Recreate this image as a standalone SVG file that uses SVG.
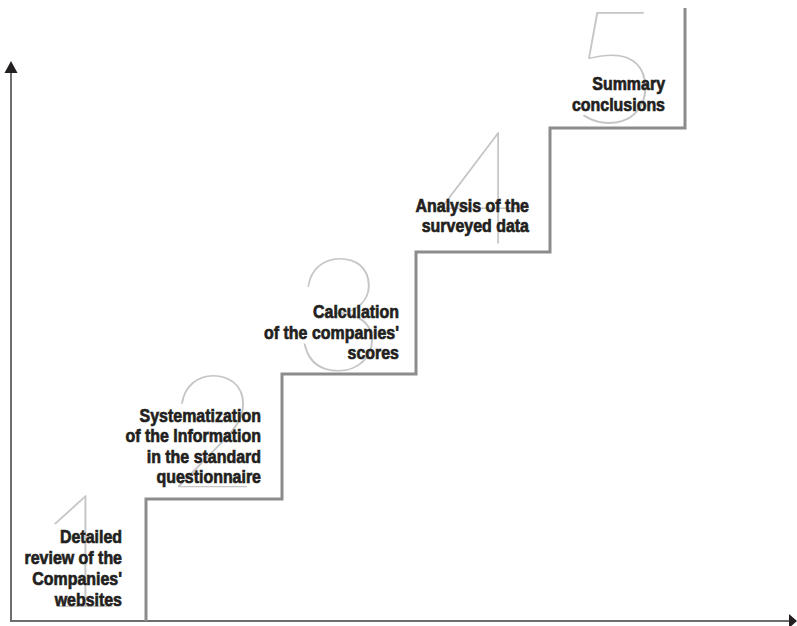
<svg xmlns="http://www.w3.org/2000/svg" width="797" height="626" viewBox="0 0 797 626">
<style>
.num{font-family:Lato,Roboto,"DejaVu Sans",sans-serif;font-weight:100;font-size:158px;fill:#c6c6c6;text-anchor:middle}
.lbl{font-family:"Liberation Sans",Arial,sans-serif;font-weight:bold;font-size:19px;fill:#231f20;stroke:#231f20;stroke-width:0.7;text-anchor:end}
.axis{stroke:#6e6e6e;stroke-width:2;fill:none}
.stair{stroke:#8c8c8c;stroke-width:3;fill:none}
</style>
<rect width="797" height="626" fill="#fff"/>
<g id="step1">
<text class="num" x="81" y="607">1</text>
<text class="lbl" transform="translate(122,0) scale(0.84,1)"><tspan x="0" y="543">Detailed</tspan><tspan x="0" y="564">review of the</tspan><tspan x="0" y="585">Companies'</tspan><tspan x="0" y="606">websites</tspan></text>
</g>
<g id="step2">
<text class="num" x="213" y="488">2</text>
<text class="lbl" transform="translate(261,0) scale(0.84,1)"><tspan x="0" y="422">Systematization</tspan><tspan x="0" y="442">of the Information</tspan><tspan x="0" y="463">in the standard</tspan><tspan x="0" y="483">questionnaire</tspan></text>
</g>
<g id="step3">
<text class="num" x="339" y="371">3</text>
<text class="lbl" transform="translate(399,0) scale(0.84,1)"><tspan x="0" y="318">Calculation</tspan><tspan x="0" y="339">of the companies'</tspan><tspan x="0" y="359">scores</tspan></text>
</g>
<g id="step4">
<text class="num" x="482" y="243">4</text>
<text class="lbl" transform="translate(529,0) scale(0.84,1)"><tspan x="0" y="212">Analysis of the</tspan><tspan x="0" y="232">surveyed data</tspan></text>
</g>
<g id="step5">
<text class="num" x="615" y="123">5</text>
<text class="lbl" transform="translate(665,0) scale(0.84,1)"><tspan x="0" y="90">Summary</tspan><tspan x="0" y="111">conclusions</tspan></text>
</g>
<g id="connectors">
<path class="axis" d="M11,72 V621 H790"/>
<polygon points="11,61 4.5,73 17.5,73" fill="#231f20"/>
<polygon points="797,621 789,614 789,628" fill="#231f20"/>
<path class="stair" d="M146,621 V499 H282 V374 H416 V252 H550 V128 H685 V8"/>
</g>
</svg>
